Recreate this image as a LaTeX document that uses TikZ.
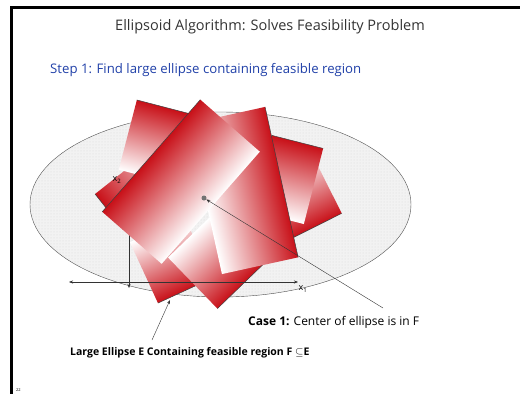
\documentclass[tikz,border=0pt]{standalone}
\usepackage{fontspec}
\setmainfont{Open Sans}
\usetikzlibrary{arrows.meta, patterns, positioning}
\definecolor{feasred}{RGB}{200,16,24}
\definecolor{stepblue}{RGB}{32,64,168}

\begin{document}
\begin{tikzpicture}[
  x=1pt, y=-1pt,
  heading/.style={font=\fontsize{14.5}{16}\selectfont, text=black!80},
  stepline/.style={font=\fontsize{13.2}{15}\selectfont, text=stepblue, anchor=west, inner sep=0pt},
  note/.style={font=\fontsize{12}{14}\selectfont, anchor=west, inner sep=0pt},
  ptr/.style={-{Stealth[length=4pt,width=3pt]}, thin, black!80},
  axis/.style={{Stealth[length=4pt,width=3pt]}-{Stealth[length=4pt,width=3pt]}, thin, black!80},
  rimline/.style={black!75, line width=0.5pt},
  axlabel/.style={font=\fontsize{9}{9}\selectfont, inner sep=0pt}
]
\useasboundingbox (0,0) rectangle (520,394);

% Slide frame
\draw[line width=3pt] (11.5,394) -- (11.5,7) -- (520,7);

% Title
\node[heading] (title) at (270,27) {Ellipsoid Algorithm: Solves Feasibility Problem};
\node[stepline] (step) at (50,70) {Step 1: Find large ellipse containing feasible region};

% Large ellipse E
\draw[black!70, fill=gray!10] (220.5,204.5) ellipse [x radius=190.5, y radius=92.5];
\fill[pattern=dots, pattern color=gray!30] (220.5,204.5) ellipse [x radius=190.5, y radius=92.5];

% Feasible region F: shaded rotated pieces, back to front
\foreach \cx/\cy/\ang/\w/\h in {299.2/195.5/-153.4/60/70, 287.8/179.7/-14.3/53/78,
    144.3/183.7/128.4/45/90, 166.5/144.9/-14.6/80/72, 171.2/260.1/-155.3/60/67,
    225.1/251.8/-136/90/71, 243.5/190.5/-77.6/154/78}{
  \begin{scope}[transform canvas={shift={(\cx,\cy)}, rotate=\ang}]
    \shade[top color=feasred, bottom color=white] (-\w/2,-\h/2) rectangle (\w/2,\h/2);
    \draw[rimline] (-\w/2,-\h/2) -- (\w/2,-\h/2);
  \end{scope}
}

% Axes
\draw[axis] (69,282) -- (298,282);
\draw[axis] (129,190) -- (129,288);

% Front piece
\begin{scope}[transform canvas={shift={(181,181.75)}, rotate=48.8}]
  \shade[top color=feasred, bottom color=white] (-74.5,-39.5) rectangle (74.5,39.5);
  \draw[rimline] (-74.5,-39.5) -- (74.5,-39.5);
\end{scope}

\node[axlabel] (xone) at (303,289) {x\textsubscript{1}};
\node[axlabel] (xtwo) at (117,180) {x\textsubscript{2}};

% Center of ellipse
\node[circle, fill=black!55, inner sep=0pt, minimum size=5pt] (ctr) at (204,198) {};

% Labels
\node[note] (caseone) at (248,322) {\textbf{Case 1:} Center of ellipse is in F};
\node[note, font=\fontsize{10.5}{13}\selectfont\bfseries] (bigell) at (70,353) {Large Ellipse E Containing feasible region F $\subseteq$E};
\node[font=\fontsize{4}{4}\selectfont, anchor=west, inner sep=0pt] (pagenum) at (16,390) {22};

\coordinate (casefoot) at (383,308);
\coordinate (bigfoot) at (152,340);
\coordinate (elltouch) at (170,300);
\draw[ptr] (casefoot) -- (ctr);
\draw[ptr] (bigfoot) -- (elltouch);

\end{tikzpicture}
\end{document}
